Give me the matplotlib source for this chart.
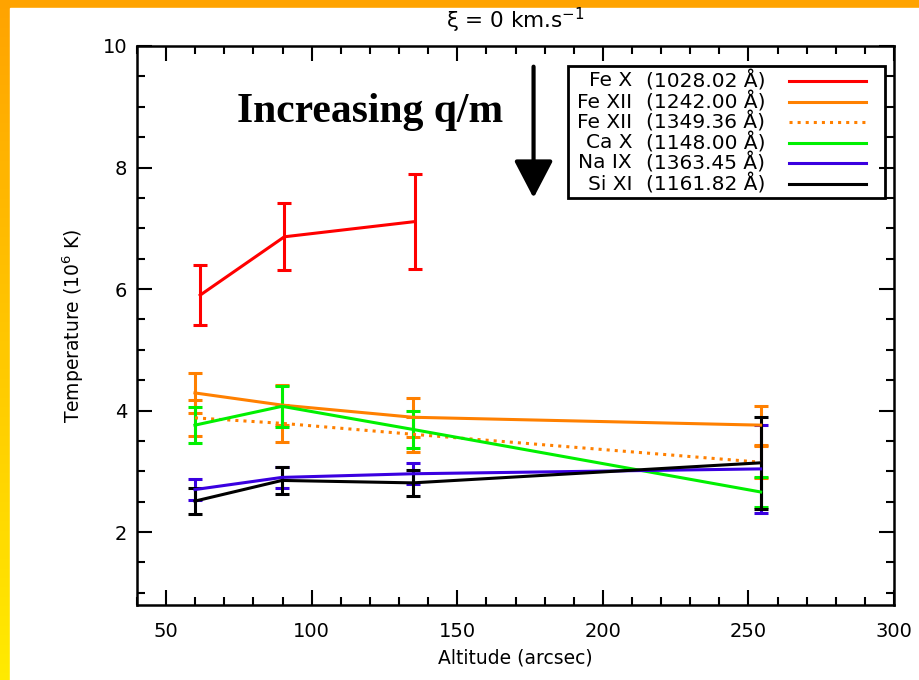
import numpy as np
import matplotlib
matplotlib.use("Agg")
import matplotlib.pyplot as plt
from matplotlib.patches import Rectangle
from matplotlib.ticker import MultipleLocator

# altitude (arcsec) of the measurement points
alt_fe10 = [61.7, 90.6, 135.4]
alt = [59.9, 89.8, 134.7, 254.2]

# temperatures (10^6 K) and errors
fe10_1028 = [5.90, 6.86, 7.11]
fe10_1028_err = [0.50, 0.55, 0.78]
fe12_1242 = [4.29, 4.09, 3.89, 3.76]
fe12_1242_err = [0.33, 0.33, 0.32, 0.32]
fe12_1349 = [3.88, 3.79, 3.61, 3.15]
fe12_1349_err = [0.30, 0.30, 0.29, 0.26]
ca10_1148 = [3.76, 4.07, 3.69, 2.66]
ca10_1148_err = [0.30, 0.34, 0.30, 0.25]
na9_1363 = [2.70, 2.90, 2.96, 3.04]
na9_1363_err = [0.17, 0.17, 0.17, 0.72]
si11_1161 = [2.51, 2.85, 2.81, 3.14]
si11_1161_err = [0.21, 0.22, 0.21, 0.76]

ions = ['Fe X', 'Fe XII', 'Fe XII', 'Ca X', 'Na IX', 'Si XI']
waves = ['(1028.02 Å)', '(1242.00 Å)', '(1349.36 Å)', '(1148.00 Å)', '(1363.45 Å)', '(1161.82 Å)']

RED = '#ff0000'
ORANGE = '#ff8000'
GREEN = '#00f000'
BLUE = '#3a00e0'
BLACK = '#000000'

series = [
    (alt_fe10, fe10_1028, fe10_1028_err, RED, '-'),
    (alt, fe12_1242, fe12_1242_err, ORANGE, '-'),
    (alt, fe12_1349, fe12_1349_err, ORANGE, ':'),
    (alt, ca10_1148, ca10_1148_err, GREEN, '-'),
    (alt, na9_1363, na9_1363_err, BLUE, '-'),
    (alt, si11_1161, si11_1161_err, BLACK, '-'),
]

W, H = 919, 680
fig = plt.figure(figsize=(W / 100, H / 100), dpi=100)
fig.patch.set_facecolor('white')

# orange -> yellow frame on top and left
bg = fig.add_axes([0, 0, 1, 1], zorder=-10)
grad = np.linspace(0, 1, 256).reshape(-1, 1)
top_col = np.array([1.0, 0.64, 0.0])
bot_col = np.array([1.0, 0.92, 0.0])
img = top_col[None, None, :] * (1 - grad[:, :, None]) + bot_col[None, None, :] * grad[:, :, None]
bg.imshow(img, aspect='auto', extent=[0, 1, 0, 1])
bg.add_patch(Rectangle((10 / W, 0), 1, 1 - 8 / H, color='white', transform=bg.transAxes))
bg.set_xlim(0, 1)
bg.set_ylim(0, 1)
bg.axis('off')

ax = fig.add_axes([137 / W, 1 - 605 / H, 757 / W, 559 / H])

for x, y, e, c, ls in series:
    eb = ax.errorbar(x, y, yerr=e, color=c, lw=2.2, ls=ls, capsize=5, capthick=2.2,
                     elinewidth=2.2)
    if ls == ':':
        eb[2][0].set_linestyle('-')

ax.set_xlim(40, 300)
ax.set_ylim(0.8, 10)
ax.xaxis.set_major_locator(MultipleLocator(50))
ax.xaxis.set_minor_locator(MultipleLocator(10))
ax.yaxis.set_major_locator(MultipleLocator(2))
ax.yaxis.set_minor_locator(MultipleLocator(0.5))
ax.tick_params(which='both', direction='in', top=True, right=True, width=1.5, labelsize=14)
ax.tick_params(which='major', length=10.5)
ax.tick_params(which='minor', length=5.5)
ax.tick_params(axis='x', pad=12)
ax.tick_params(axis='y', pad=7)
for s in ax.spines.values():
    s.set_linewidth(1.8)

ax.set_xlabel('Altitude (arcsec)', fontsize=13.5, labelpad=6)
ax.set_ylabel('Temperature (10$^{6}$ K)', fontsize=13.5, labelpad=12)
ax.set_title('ξ = 0 km.s$^{-1}$', fontsize=15.5, pad=13)

# hand-drawn legend box
def fx(px):
    return (px - 137) / 757


def fy(py):
    return (605 - py) / 559


ax.add_patch(Rectangle((fx(568), fy(198)), fx(885) - fx(568), fy(66) - fy(198),
                       transform=ax.transAxes, fill=False, lw=2, ec='black', zorder=5))
rows = [81, 102, 122.3, 142.5, 162.7, 184]
for (x, y, e, c, ls), ion, wv, py in zip(series, ions, waves, rows):
    ax.text(fx(632), fy(py), ion, transform=ax.transAxes, ha='right', va='center', fontsize=14.5)
    ax.text(fx(646), fy(py), wv, transform=ax.transAxes, ha='left', va='center', fontsize=14.5)
    ax.plot([fx(789), fx(866)], [fy(py), fy(py)], transform=ax.transAxes, color=c, ls=ls, lw=2.2)

ax.text(74.4, 8.75, 'Increasing q/m', fontsize=30, fontweight='bold',
        family='Liberation Serif', ha='left', va='baseline')
ax.annotate('', xy=(176.2, 7.50), xytext=(176.2, 9.66),
            arrowprops=dict(arrowstyle='-|>,head_length=1.15,head_width=0.6', lw=3,
                            color='black', mutation_scale=20, shrinkA=0, shrinkB=0))

fig.savefig('out.png', dpi=100)
